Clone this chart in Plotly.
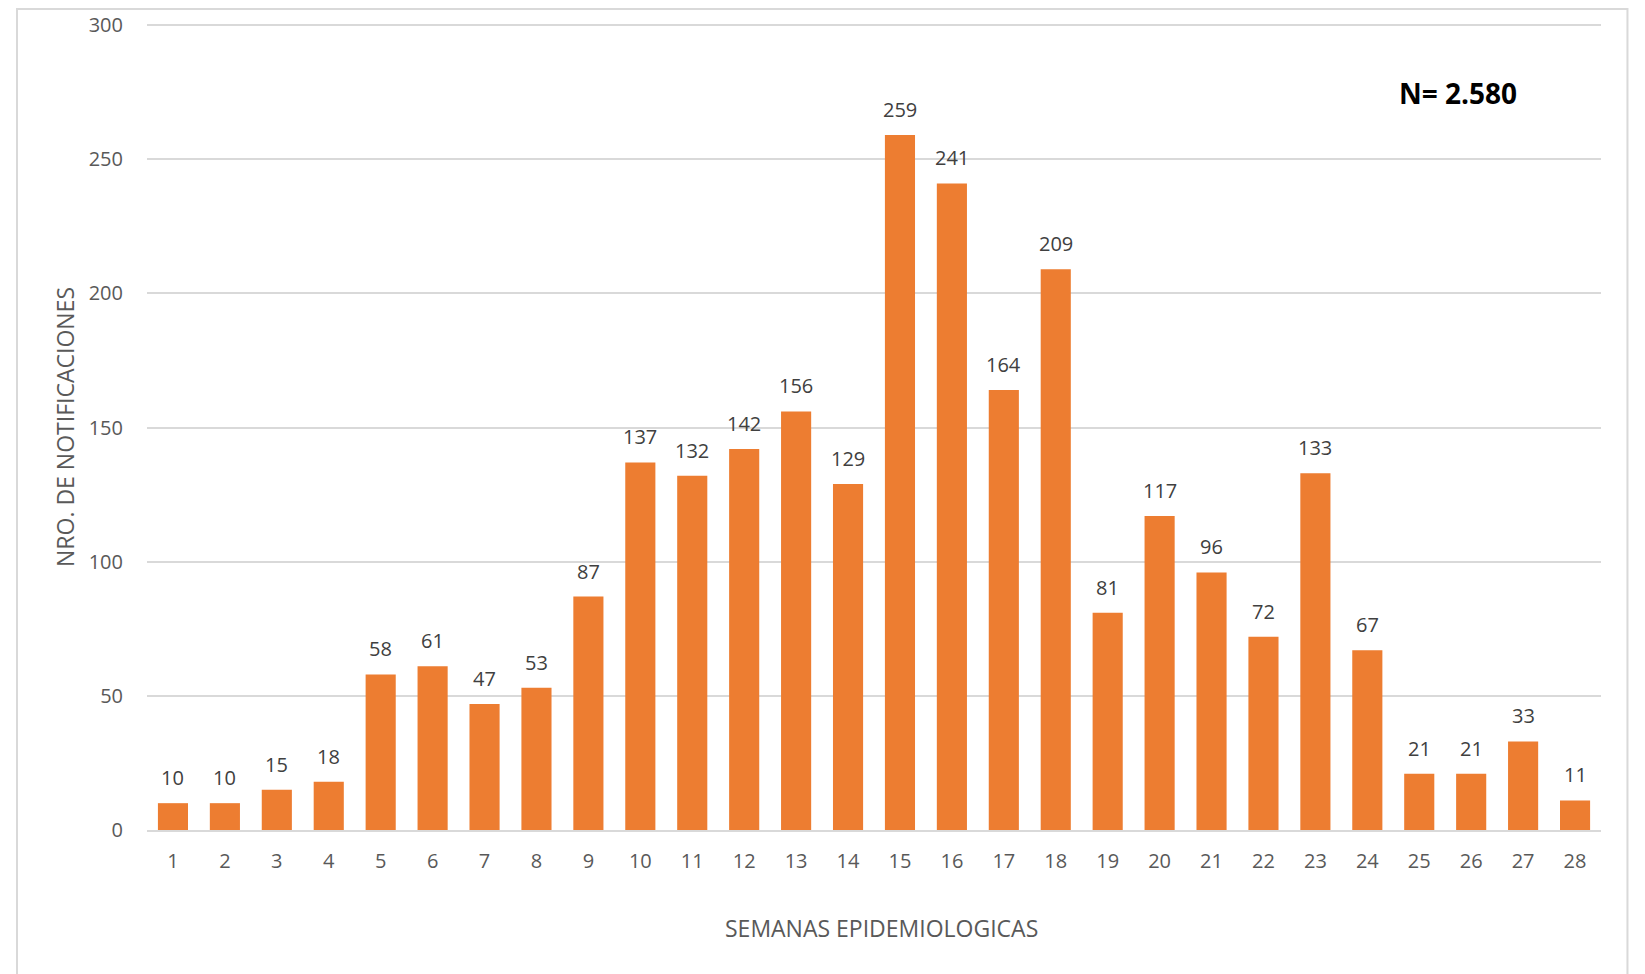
import plotly.graph_objects as go

weeks = list(range(1, 29))
notificaciones = [10, 10, 15, 18, 58, 61, 47, 53, 87, 137, 132, 142, 156, 129,
                  259, 241, 164, 209, 81, 117, 96, 72, 133, 67, 21, 21, 33, 11]
y_ticks = [0, 50, 100, 150, 200, 250, 300]

FONT = "Open Sans"
BAR = "#ED7D31"
GRID = "#d9d9d9"

fig = go.Figure()
fig.add_trace(go.Bar(
    x=weeks, y=notificaciones, marker=dict(color=BAR, line=dict(width=0)),
    hoverinfo="x+y",
))

for w, v in zip(weeks, notificaciones):
    fig.add_annotation(x=w, y=v, text=str(v), showarrow=False, yanchor="bottom",
                       yshift=10, font=dict(family=FONT, size=20, color="#404040"))

fig.add_annotation(x=0.9015, y=0.915, xref="paper", yref="paper", text="<b>N= 2.580</b>",
                   showarrow=False, xanchor="center", yanchor="middle",
                   font=dict(family=FONT, size=28, color="black"))

# x-axis title
fig.add_annotation(x=0.505, y=-0.122, xref="paper", yref="paper", text="SEMANAS EPIDEMIOLOGICAS",
                   showarrow=False, xanchor="center", yanchor="middle",
                   font=dict(family=FONT, size=23, color="#595959"))

# outer chart border
fig.add_shape(type="rect", xref="paper", yref="paper",
              x0=-0.0894, x1=1.0182, y0=-0.19, y1=1.0186,
              line=dict(color=GRID, width=2), fillcolor="rgba(0,0,0,0)", layer="below")

fig.update_layout(
    width=1645, height=974,
    margin=dict(l=139, r=52, t=16, b=152, autoexpand=False),
    paper_bgcolor="white", plot_bgcolor="white",
    bargap=0.42, showlegend=False,
    font=dict(family=FONT, size=20, color="#595959"),
    xaxis=dict(
        tickmode="array", tickvals=weeks, ticktext=[str(w) for w in weeks],
        range=[0.5, 28.5], showgrid=False, showline=True, linecolor=GRID, linewidth=2,
        ticks="", ticklen=0, ticklabelstandoff=12, automargin=False,
        tickfont=dict(size=20, color="#595959"),
    ),
    yaxis=dict(
        range=[0, 300.4], tickmode="array", tickvals=y_ticks,
        showgrid=True, gridcolor=GRID, gridwidth=1.5, zeroline=False,
        showline=False, ticks="", ticklabelstandoff=23, automargin=False,
        title=dict(text="NRO. DE NOTIFICACIONES", font=dict(size=23, color="#595959"), standoff=7),
        tickfont=dict(size=20, color="#595959"),
    ),
)

fig.write_html("out.html")
